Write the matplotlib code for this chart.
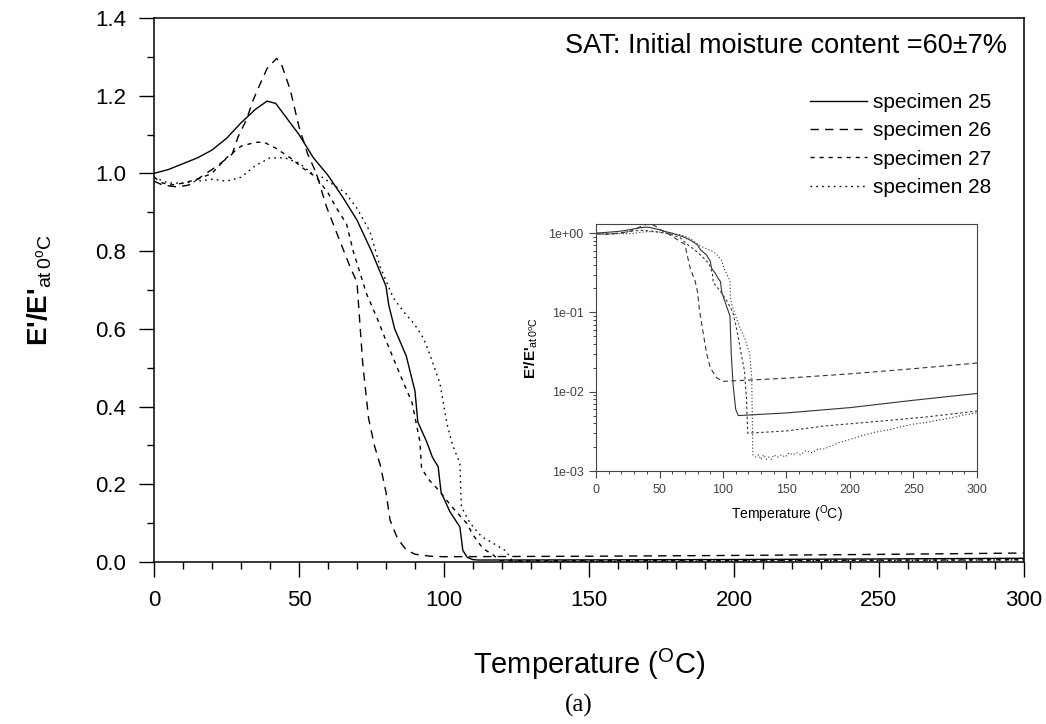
import numpy as np
import matplotlib
matplotlib.use("Agg")
import matplotlib.pyplot as plt
from matplotlib.ticker import MultipleLocator, LogLocator, FuncFormatter, NullFormatter

plt.rcParams['font.family'] = ['Liberation Sans', 'DejaVu Sans']
plt.rcParams['mathtext.fontset'] = 'custom'
plt.rcParams['mathtext.rm'] = 'Liberation Sans'
plt.rcParams['mathtext.it'] = 'Liberation Sans:italic'
plt.rcParams['mathtext.bf'] = 'Liberation Sans:bold'
plt.rcParams['lines.scale_dashes'] = False

# data (temperature in C, E'/E' at 0C)
s25_T = [0, 5, 10, 15, 20, 25, 30, 35, 39, 42, 45, 47, 50, 55, 60, 65, 70, 75, 80, 81,
         83, 87, 90, 91, 94, 96, 98, 99, 102, 105.5, 106.5, 108, 110, 112, 150, 200, 250, 300]
s25_E = [1.0, 1.01, 1.025, 1.04, 1.06, 1.09, 1.13, 1.165, 1.186, 1.18, 1.15, 1.13, 1.10, 1.04,
         0.995, 0.94, 0.88, 0.80, 0.71, 0.66, 0.60, 0.53, 0.44, 0.36, 0.31, 0.27, 0.245, 0.18,
         0.13, 0.09, 0.03, 0.012, 0.006, 0.005, 0.0054, 0.0063, 0.0078, 0.0095]

s26_T = [0, 3, 8, 12, 18, 22, 27, 29, 32, 34, 36, 39, 42.3, 44, 47, 50, 53, 56, 59.5, 63,
         67.6, 70, 72, 74, 76, 78, 80, 81.4, 84, 87, 90, 95, 100, 150, 200, 250, 300]
s26_E = [0.98, 0.97, 0.965, 0.97, 1.0, 1.02, 1.05, 1.094, 1.14, 1.185, 1.22, 1.27, 1.296, 1.28,
         1.215, 1.12, 1.05, 1.0, 0.914, 0.847, 0.76, 0.72, 0.51, 0.37, 0.30, 0.25, 0.18, 0.108,
         0.06, 0.031, 0.02, 0.015, 0.0135, 0.0148, 0.0168, 0.0195, 0.023]

s27_T = [0, 3, 6, 10, 15, 20, 25, 30, 35, 38, 42, 47, 52, 56, 60, 63, 66.4, 68.7, 73.3, 76.8,
         80, 85, 89, 91.7, 92.3, 95, 97.5, 103, 107.8, 110, 112.4, 114, 117, 118.5, 119.5,
         150, 180, 220, 260, 300]
s27_E = [0.99, 0.975, 0.97, 0.975, 0.985, 1.0, 1.04, 1.07, 1.08, 1.08, 1.065, 1.04, 1.01, 0.99,
         0.95, 0.91, 0.87, 0.80, 0.69, 0.63, 0.57, 0.48, 0.41, 0.31, 0.24, 0.21, 0.19, 0.14,
         0.10, 0.07, 0.045, 0.032, 0.018, 0.008, 0.003, 0.0032, 0.0037, 0.0042, 0.0048, 0.0057]

s28_T = [0, 5, 10, 15, 20, 25, 30, 35, 40, 45, 50, 54.5, 58, 62, 66, 70, 74.5, 78, 82.5, 86,
         90, 93, 95, 98.6, 101, 103, 105.5, 106, 109, 113, 117, 121, 122.6, 123.5,
         126, 128, 130, 132, 134, 136, 138, 140, 143, 146, 149, 152, 155, 158, 161, 165,
         170, 175, 180, 186, 192, 200, 210, 220, 230, 240, 250, 260, 270, 280, 290, 300]
s28_E = [0.99, 0.975, 0.975, 0.98, 0.985, 0.98, 0.99, 1.02, 1.04, 1.04, 1.027, 1.0, 0.99, 0.97,
         0.95, 0.91, 0.85, 0.76, 0.68, 0.645, 0.61, 0.575, 0.537, 0.46, 0.357, 0.30, 0.254,
         0.142, 0.10, 0.065, 0.048, 0.03, 0.0155, 0.0016,
         0.0015, 0.0016, 0.0014, 0.0016, 0.0014, 0.0015, 0.0014, 0.0016, 0.0015, 0.0016,
         0.0015, 0.0017, 0.0016, 0.0017, 0.0016, 0.0018, 0.0017, 0.0019, 0.0019, 0.0021,
         0.0023, 0.0025, 0.0028, 0.0031, 0.0033, 0.0036, 0.0039, 0.0041, 0.0044, 0.0047,
         0.0051, 0.0054]

labels = ['specimen 25', 'specimen 26', 'specimen 27', 'specimen 28']
series = [(s25_T, s25_E), (s26_T, s26_E), (s27_T, s27_E), (s28_T, s28_E)]
main_ls = ['-', (0, (6, 4.5)), (0, (3, 3.5)), (0, (1.2, 3))]
inset_ls = ['-', (0, (3.5, 2.5)), (0, (1.8, 1.8)), (0, (0.8, 1.6))]

fig = plt.figure(figsize=(10.46, 7.24), dpi=100)
ax = fig.add_axes([0.1472, 0.2238, 0.8317, 0.7514])

for (t, e), ls, lab in zip(series, main_ls, labels):
    ax.plot(t, e, color='black', lw=1.0, linestyle=ls, label=lab)

ax.set_xlim(0, 300)
ax.set_ylim(0, 1.4)
ax.xaxis.set_major_locator(MultipleLocator(50))
ax.xaxis.set_minor_locator(MultipleLocator(10))
ax.yaxis.set_major_locator(MultipleLocator(0.2))
ax.yaxis.set_minor_locator(MultipleLocator(0.1))
ax.yaxis.set_major_formatter(FuncFormatter(lambda v, p: f"{v:.1f}"))
ax.tick_params(which='major', direction='out', length=11, width=1, labelsize=16, pad=9)
ax.tick_params(which='minor', direction='out', length=5, width=1)
for sp in ax.spines.values():
    sp.set_linewidth(1.1)

ax.set_xlabel(r"Temperature ($^{\rm O}$C)", fontsize=21, labelpad=26)
ax.set_ylabel(r"E'/E'$_{\rm at\,0^oC}$", fontsize=20, fontweight='bold', labelpad=30)

ax.text(0.9805, 0.9485, "SAT: Initial moisture content =60±7%", transform=ax.transAxes,
        ha='right', va='center', fontsize=19.5)
ax.legend(loc='upper left', bbox_to_anchor=(0.754, 0.862), frameon=False, fontsize=15,
          handlelength=2.75, handletextpad=0.3, labelspacing=0.45, borderpad=0, borderaxespad=0)

fig.text(0.553, 0.026, "(a)", fontsize=18, family='Liberation Serif', ha='center', va='center')

# inset on log scale
ins = fig.add_axes([0.5698, 0.3494, 0.3642, 0.3412])
for (t, e), ls in zip(series, inset_ls):
    ins.plot(t, e, color='#333333', lw=0.8, linestyle=ls)
ins.set_yscale('log')
ins.set_xlim(0, 300)
ins.set_ylim(1e-3, 1.3)
ins.xaxis.set_major_locator(MultipleLocator(50))
ins.xaxis.set_minor_locator(MultipleLocator(10))
ins.yaxis.set_major_locator(LogLocator(base=10, numticks=10))
ins.yaxis.set_minor_locator(LogLocator(base=10, subs=np.arange(2, 10), numticks=20))
ins.yaxis.set_minor_formatter(NullFormatter())
ins.yaxis.set_major_formatter(FuncFormatter(lambda v, p: f"{v:.0e}"))
ins.tick_params(which='major', direction='out', length=5, width=0.8, labelsize=9,
                colors='#444444', pad=4)
ins.tick_params(which='minor', direction='out', length=2.5, width=0.7, colors='#444444')
for sp in ins.spines.values():
    sp.set_linewidth(0.8)
    sp.set_color('#444444')
ins.set_xlabel(r"Temperature ($^{\rm O}$C)", fontsize=10, labelpad=6)
ins.set_ylabel(r"E'/E'$_{\rm at\,0^oC}$", fontsize=11, fontweight='bold', labelpad=6)

fig.savefig("out.png", dpi=100)
